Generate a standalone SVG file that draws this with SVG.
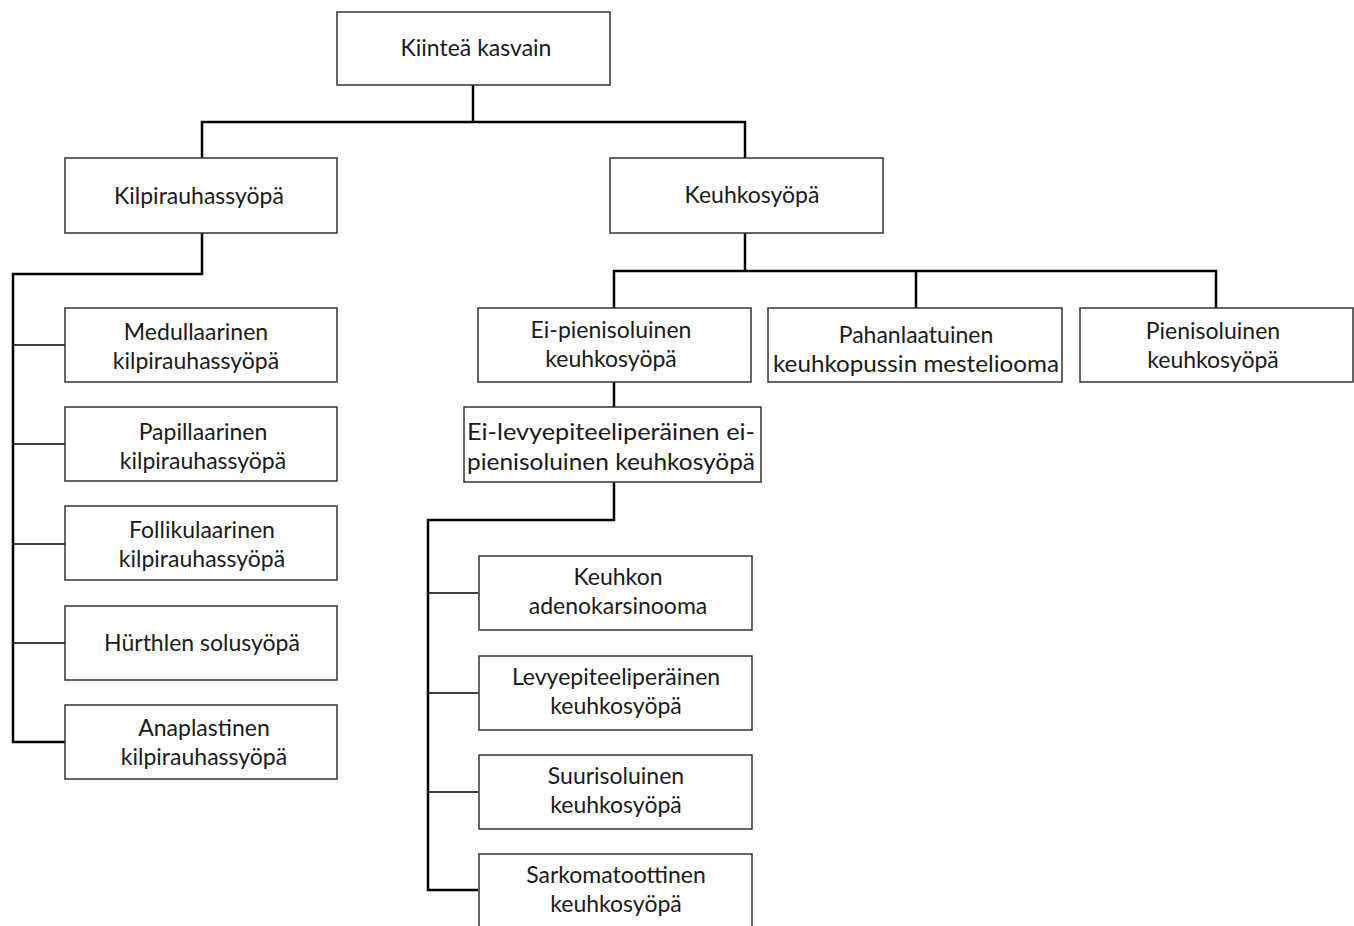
<svg xmlns="http://www.w3.org/2000/svg" width="1354" height="926" viewBox="0 0 1354 926">
<style>
.box{fill:#fff;stroke:#333;stroke-width:1.5}
.t{font-family:Lato,"Noto Sans",sans-serif;font-size:23px;fill:#1a1a1a;text-anchor:middle}
.trunk{fill:none;stroke:#000;stroke-width:2.5}
.br{fill:none;stroke:#000;stroke-width:1.6}
</style>
<rect width="1354" height="926" fill="#fff"/>
<g id="connectors">
<path class="trunk" d="M473 85V122M202 158V122H745V158"/>
<path class="trunk" d="M202 233V274H13V742H65"/>
<path class="br" d="M13 345H65M13 444H65M13 544H65M13 643H65"/>
<path class="trunk" d="M745 233V271M614 308V271H1216V308M916 271V308"/>
<path class="trunk" d="M614 382V407M614 482V520H428V890H478"/>
<path class="br" d="M428 593H478M428 693H478M428 792H478"/>
</g>
<g id="n-root"><rect class="box" x="337" y="12" width="273" height="73"/><text class="t" x="476" y="56">Kiinteä kasvain</text></g>
<g id="n-kilpi"><rect class="box" x="65" y="158" width="272" height="75"/><text class="t" x="199" y="204">Kilpirauhassyöpä</text></g>
<g id="n-keuhko"><rect class="box" x="610" y="158" width="273" height="75"/><text class="t" x="752" y="203">Keuhkosyöpä</text></g>
<g id="n-medul"><rect class="box" x="65" y="308" width="272" height="74"/><text class="t" x="196" y="340">Medullaarinen</text><text class="t" x="196" y="369">kilpirauhassyöpä</text></g>
<g id="n-papil"><rect class="box" x="65" y="407" width="272" height="74"/><text class="t" x="203" y="440">Papillaarinen</text><text class="t" x="203" y="469">kilpirauhassyöpä</text></g>
<g id="n-folli"><rect class="box" x="65" y="506" width="272" height="74"/><text class="t" x="202" y="538">Follikulaarinen</text><text class="t" x="202" y="567">kilpirauhassyöpä</text></g>
<g id="n-hurth"><rect class="box" x="65" y="606" width="272" height="74"/><text class="t" x="202" y="651">Hürthlen solusyöpä</text></g>
<g id="n-anapl"><rect class="box" x="65" y="705" width="272" height="74"/><text class="t" x="204" y="736">Anaplastinen</text><text class="t" x="204" y="765">kilpirauhassyöpä</text></g>
<g id="n-eipieni"><rect class="box" x="478" y="308" width="273" height="74"/><text class="t" x="611" y="338">Ei-pienisoluinen</text><text class="t" x="611" y="367">keuhkosyöpä</text></g>
<g id="n-pahan"><rect class="box" x="768" y="308" width="294" height="74"/><text class="t" x="916" y="343">Pahanlaatuinen</text><text class="t" x="916" y="372" textLength="286" lengthAdjust="spacingAndGlyphs">keuhkopussin mesteliooma</text></g>
<g id="n-pieni"><rect class="box" x="1080" y="308" width="273" height="74"/><text class="t" x="1213" y="339">Pienisoluinen</text><text class="t" x="1213" y="368">keuhkosyöpä</text></g>
<g id="n-eilevy"><rect class="box" x="464" y="407" width="297" height="75"/><text class="t" x="611" y="440" textLength="288" lengthAdjust="spacingAndGlyphs">Ei-levyepiteeliperäinen ei-</text><text class="t" x="611" y="470" textLength="288" lengthAdjust="spacingAndGlyphs">pienisoluinen keuhkosyöpä</text></g>
<g id="n-adeno"><rect class="box" x="479" y="556" width="273" height="74"/><text class="t" x="618" y="585">Keuhkon</text><text class="t" x="618" y="614">adenokarsinooma</text></g>
<g id="n-levy"><rect class="box" x="479" y="656" width="273" height="74"/><text class="t" x="616" y="685">Levyepiteeliperäinen</text><text class="t" x="616" y="714">keuhkosyöpä</text></g>
<g id="n-suuri"><rect class="box" x="479" y="755" width="273" height="74"/><text class="t" x="616" y="784">Suurisoluinen</text><text class="t" x="616" y="813">keuhkosyöpä</text></g>
<g id="n-sarko"><rect class="box" x="479" y="854" width="273" height="80"/><text class="t" x="616" y="883">Sarkomatoottinen</text><text class="t" x="616" y="912">keuhkosyöpä</text></g>
</svg>
